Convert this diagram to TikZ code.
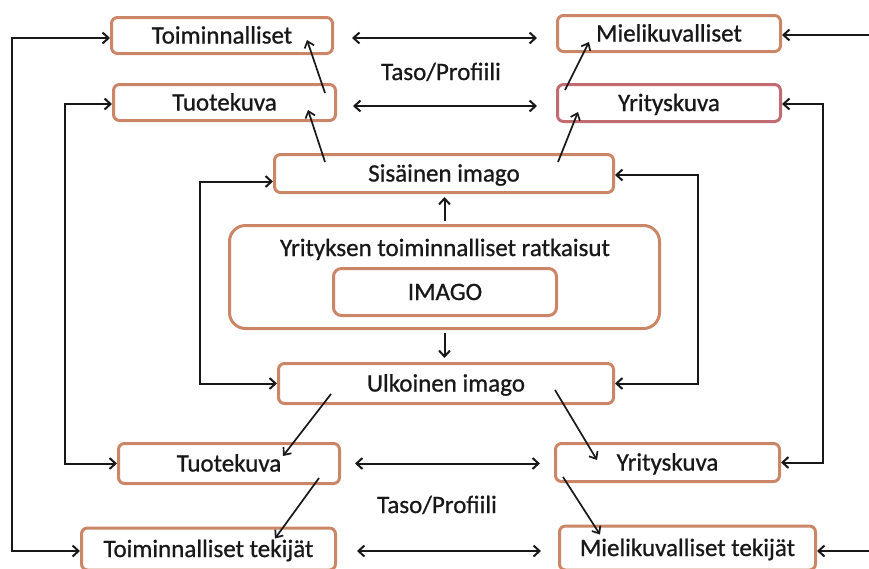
\documentclass[tikz,border=0pt]{standalone}
\usepackage{fontspec}
\setmainfont[FakeBold=0.8]{Carlito}
\usetikzlibrary{arrows.meta,calc}
\definecolor{boxorange}{RGB}{202,134,102}
\definecolor{boxred}{RGB}{194,108,114}
\definecolor{ink}{RGB}{24,24,24}

\begin{document}
\begin{tikzpicture}[x=1pt,y=-1pt,
  txt/.style={text=ink,font=\fontsize{25}{30}\selectfont,text height=18pt,text depth=2pt,inner sep=0pt},
  box/.style={txt,draw=boxorange,line width=3pt,rounded corners=6pt,fill=white,align=center},
  tip/.tip={Straight Barb[length=6pt,width=11pt]},
  link/.style={draw=ink,line width=2pt,-tip},
  dlink/.style={draw=ink,line width=2pt,tip-tip},
  diag/.style={draw=ink,line width=1.7pt,-{Straight Barb[length=6pt,width=10pt]}}
]
\useasboundingbox (0,0) rectangle (869,568);

% upper level boxes
\node[box,minimum width=221pt,minimum height=36pt] (toim)   at (222,35.5)  {Toiminnalliset};
\node[box,minimum width=222pt,minimum height=36pt] (tuoteT) at (224.5,102.5) {Tuotekuva};
\node[box,minimum width=223pt,minimum height=36pt] (miel)   at (669,33.5)  {Mielikuvalliset};
\node[box,draw=boxred,minimum width=223pt,minimum height=37pt] (yritT) at (669,103) {Yrityskuva};
\node[txt] (taso1) at (441,72) {Taso/Profiili};

% central block
\node[box,minimum width=339pt,minimum height=38pt] (sis) at (444,173.5) {Sisäinen imago};
\node[box,rounded corners=16pt,minimum width=430pt,minimum height=103pt] (big) at (444.5,277) {};
\node[txt] (bigtitle) at (445,248) {Yrityksen toiminnalliset ratkaisut};
\node[box,rounded corners=8pt,minimum width=223pt,minimum height=47pt] (imago) at (445,292) {IMAGO};
\node[box,minimum width=335pt,minimum height=40pt] (ulk) at (446,383.5) {Ulkoinen imago};

% lower level boxes
\node[box,minimum width=221pt,minimum height=40pt] (tuoteB)  at (229,463.5)  {Tuotekuva};
\node[box,minimum width=224pt,minimum height=38pt] (yritB)   at (667.5,462.5) {Yrityskuva};
\node[txt] (taso2) at (437,505) {Taso/Profiili};
\node[box,minimum width=254pt,minimum height=42pt] (toimTek) at (208.5,549) {Toiminnalliset tekijät};
\node[box,minimum width=256pt,minimum height=44pt] (mielTek) at (687.5,548) {Mielikuvalliset tekijät};

% x positions of the vertical feedback lines
\coordinate (xL1) at (12,0);
\coordinate (xL2) at (65,0);
\coordinate (xL3) at (200,0);
\coordinate (xR3) at (698,0);
\coordinate (xR2) at (823,0);
\coordinate (xR1) at (880,0);

% connector end points on the box sides
\coordinate (pToim)    at ($(toim.west)+(0,2.5)$);
\coordinate (pToimTek) at ($(toimTek.west)+(0,2)$);
\coordinate (pTuoteT)  at ($(tuoteT.west)+(0,1.5)$);
\coordinate (pTuoteB)  at (tuoteB.west);
\coordinate (pSisW)    at ($(sis.west)+(0,8)$);
\coordinate (pUlkW)    at (ulk.west);
\coordinate (pSisE)    at ($(sis.east)+(0,1.5)$);
\coordinate (pUlkE)    at (ulk.east);
\coordinate (pYritT)   at ($(yritT.east)+(0,1)$);
\coordinate (pYritB)   at (yritB.east);
\coordinate (pMiel)    at ($(miel.east)+(0,1.5)$);
\coordinate (pMielTek) at ($(mielTek.east)+(0,3)$);

% feedback loops
\draw[dlink] (pToim) -- (pToim -| xL1) |- (pToimTek);
\draw[dlink] (pTuoteT) -- (pTuoteT -| xL2) |- (pTuoteB);
\draw[dlink] (pSisW) -- (pSisW -| xL3) |- (pUlkW);
\draw[dlink] (pSisE) -- (pSisE -| xR3) |- (pUlkE);
\draw[dlink] (pYritT) -- (pYritT -| xR2) |- (pYritB);
\draw[link] (pMiel -| xR1) -- (pMiel);
\draw[link] (pMielTek -| xR1) -- (pMielTek);

% level arrows between the two columns
\coordinate (hToim)    at ($(toim.east)+(0,2.5)$);
\coordinate (hTuoteT)  at ($(tuoteT.east)+(0,3.5)$);
\coordinate (hTuoteB)  at (tuoteB.east);
\coordinate (hToimTek) at ($(toimTek.east)+(0,2)$);
\draw[dlink,shorten <=18pt,shorten >=19pt] (hToim) -- (hToim -| miel.west);
\draw[dlink,shorten <=16pt,shorten >=19pt] (hTuoteT) -- (hTuoteT -| yritT.west);
\draw[dlink,shorten <=14pt,shorten >=14pt] (hTuoteB) -- (hTuoteB -| yritB.west);
\draw[dlink,shorten <=20pt,shorten >=17pt] (hToimTek) -- (hToimTek -| mielTek.west);

% IMAGO to inner and outer image
\draw[link,shorten <=3pt,shorten >=3pt] (big.north) -- (big.north |- sis.south);
\draw[link,shorten <=3pt,shorten >=4pt] (big.south) -- (big.south |- ulk.north);

% inner image upwards
\draw[diag] ($(tuoteT.north east)+(-12,10)$) -- ($(toim.south east)+(-27,-15)$);
\draw[diag] ($(sis.north west)+(52,9)$) -- ($(tuoteT.south east)+(-29,-12)$);
\draw[diag] ($(yritT.north west)+(9,7)$) -- ($(miel.south west)+(33,-11)$);
\draw[diag] ($(sis.north east)+(-57,9)$) -- ($(yritT.south west)+(22,-11)$);

% outer image downwards
\draw[diag] ($(ulk.south west)+(54,-11)$) -- ($(tuoteB.north east)+(-58,14)$);
\draw[diag] ($(tuoteB.south east)+(-22,-7)$) -- ($(toimTek.north east)+(-62,12)$);
\draw[diag] ($(ulk.south east)+(-60,-15)$) -- ($(yritB.north west)+(43,18)$);
\draw[diag] ($(yritB.south west)+(9,-6)$) -- ($(mielTek.north west)+(42,10)$);
\end{tikzpicture}
\end{document}
